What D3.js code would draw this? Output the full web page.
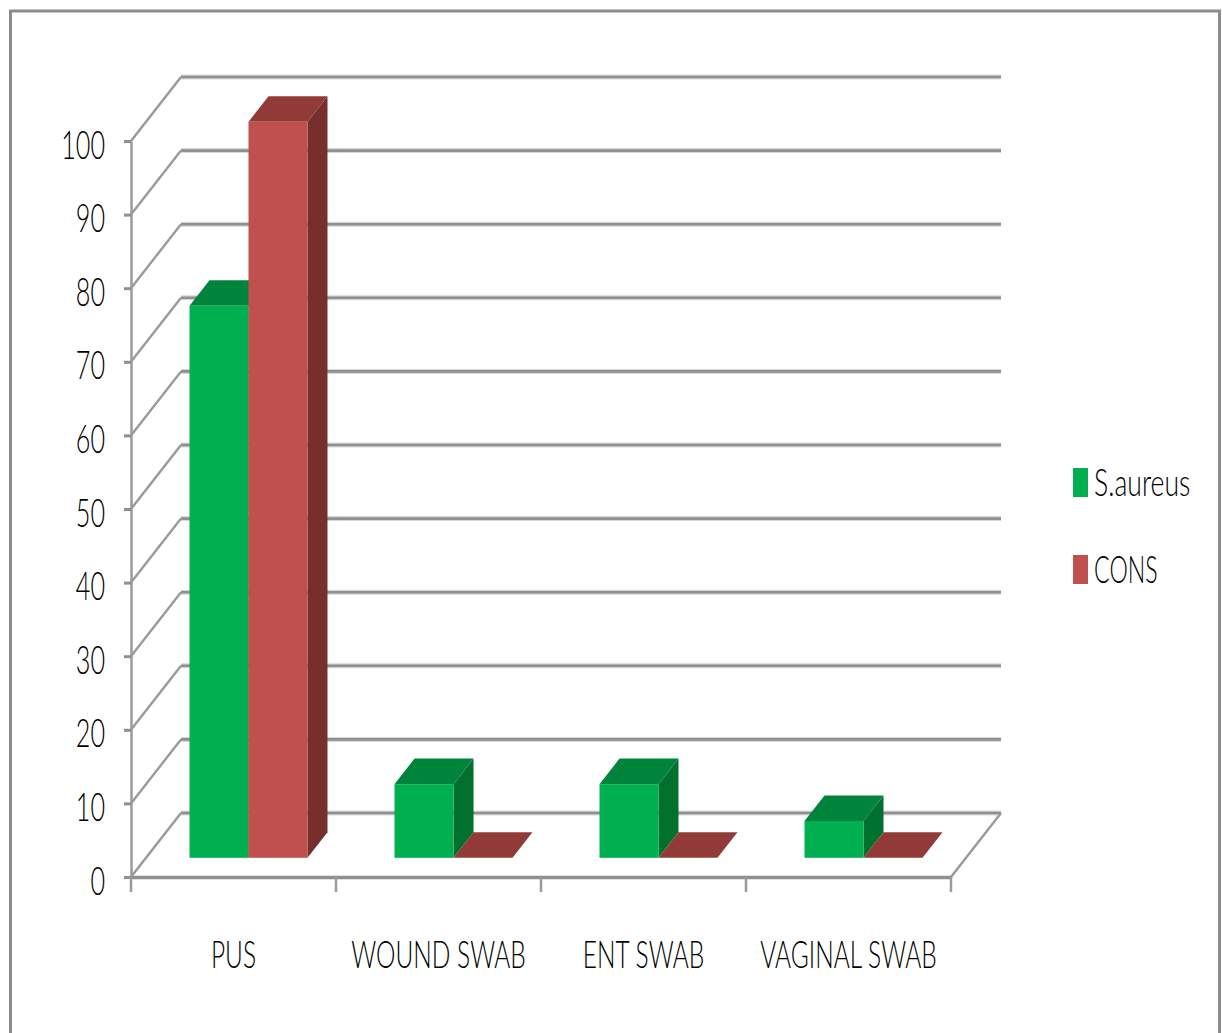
<!DOCTYPE html>
<html>
<head>
<meta charset="utf-8">
<script src="https://cdn.jsdelivr.net/npm/d3@7/dist/d3.min.js"></script>
<style>
html,body{margin:0;padding:0;background:#fff;overflow:hidden}
svg{display:block}
text{font-family:Lato,"Open Sans",sans-serif;fill:#000;font-weight:300}
</style>
</head>
<body>
<svg id="chart" width="1222" height="1033"></svg>
<script>
const categories = ["PUS", "WOUND SWAB", "ENT SWAB", "VAGINAL SWAB"];
const sAureus = [75, 10, 10, 5];
const cons = [100, 0, 0, 0];
const yTicks = [0, 10, 20, 30, 40, 50, 60, 70, 80, 90, 100];
const seriesNames = ["S.aureus", "CONS"];
const seriesValues = [sAureus, cons];
const seriesFront = ["#00b050", "#c0504d"];
const seriesTop = ["#00843c", "#923a38"];
const seriesSide = ["#00702f", "#772f2d"];
const legendSqueeze = [0.7, 0.61];

const gridColor = "#8f8f8f";
const svg = d3.select("#chart");

// Outer chart frame; its lower edge runs off the page
svg.append("rect").attr("x", 10.5).attr("y", 11).attr("width", 1209).attr("height", 1060)
  .attr("fill", "#fff").attr("stroke", "#8c8c8c").attr("stroke-width", 3);

// Oblique projection of the 3-D plot box
const wallDx = 50, wallDy = -64;
const y = d3.scaleLinear().domain([0, 100]).range([877, 141]);
const x = d3.scaleBand().domain(categories).range([131, 951]);
const series = d3.scaleBand().domain(seriesNames).range([0, 118]);
const frontDepth = 0.3, backDepth = 0.7;
const fx = wallDx * frontDepth, fy = wallDy * frontDepth;
const bx = wallDx * (backDepth - frontDepth), by = wallDy * (backDepth - frontDepth);

// Back wall gridlines: pale halo under a darker core
const backWall = svg.append("g");
[["#d6d6d6", 5], [gridColor, 2.6]].forEach(([color, width]) => {
  backWall.append("g").selectAll("line").data(yTicks).join("line")
    .attr("x1", x.range()[0] + wallDx).attr("x2", x.range()[1] + wallDx)
    .attr("y1", d => y(d) + wallDy).attr("y2", d => y(d) + wallDy)
    .attr("stroke", color).attr("stroke-width", width);
});

// Side wall diagonals and the floor edge on the right
const sideWall = svg.append("g").attr("stroke", "#9a9a9a").attr("stroke-width", 2.4);
sideWall.selectAll("line").data(yTicks).join("line")
  .attr("x1", x.range()[0]).attr("y1", d => y(d))
  .attr("x2", x.range()[0] + wallDx).attr("y2", d => y(d) + wallDy);
sideWall.append("line").datum(0)
  .attr("x1", x.range()[1]).attr("y1", y(0))
  .attr("x2", x.range()[1] + wallDx).attr("y2", y(0) + wallDy);

// Condensed axis and legend lettering
const squeeze = (sel, sx) => sel.attr("transform", function () {
  const t = d3.select(this);
  const px = +t.attr("x") || 0, py = +t.attr("y") || 0;
  return `translate(${px},${py}) scale(${sx},1)`;
}).attr("x", 0).attr("y", 0);

// Value axis
const yAxis = svg.append("g").attr("transform", "translate(131,0)")
  .call(d3.axisLeft(y).tickValues(yTicks).tickSize(7).tickPadding(0).tickSizeOuter(0));
yAxis.select(".domain").attr("stroke", "#9a9a9a").attr("stroke-width", 2.5);
yAxis.selectAll(".tick line").attr("stroke", gridColor).attr("stroke-width", 3);
yAxis.selectAll(".tick text")
  .attr("font-size", 40).attr("text-anchor", "end").attr("dy", null)
  .attr("x", -26).attr("y", 17)
  .call(squeeze, 0.63);

// Category axis
const xAxis = svg.append("g").attr("transform", `translate(0,${y(0)})`)
  .call(d3.axisBottom(x).tickSize(0).tickSizeOuter(0).tickPadding(0));
xAxis.select(".domain").attr("stroke", gridColor).attr("stroke-width", 3.4);
xAxis.selectAll(".tick text")
  .attr("font-size", 38).attr("text-anchor", "middle").attr("dy", null)
  .attr("x", 0).attr("y", 91)
  .call(squeeze, 0.645);
xAxis.selectAll(".cat-tick").data([...categories.map(c => x(c)), x.range()[1]]).join("line")
  .attr("class", "cat-tick")
  .attr("x1", d => d).attr("x2", d => d).attr("y1", 0).attr("y2", 15)
  .attr("stroke", "#9a9a9a").attr("stroke-width", 2.5);

// Bars, one box per value: side, top, then front face
const polygon = pts => pts.map(p => p.join(",")).join(" ");
const boxes = svg.append("g");
categories.forEach((cat, ci) => {
  seriesNames.forEach((name, si) => {
    const v = seriesValues[si][ci];
    const x0 = x(cat) + (x.bandwidth() - series.range()[1]) / 2 + fx + series(name);
    const x1 = x0 + series.bandwidth();
    const yb = y(0) + fy;
    const yt = yb - (y(0) - y(v));
    const g = boxes.append("g");
    g.append("polygon").attr("fill", seriesSide[si])
      .attr("points", polygon([[x1, yt], [x1 + bx, yt + by], [x1 + bx, yb + by], [x1, yb]]));
    g.append("polygon").attr("fill", seriesTop[si])
      .attr("points", polygon([[x0, yt], [x1, yt], [x1 + bx, yt + by], [x0 + bx, yt + by]]));
    g.append("rect").attr("fill", seriesFront[si])
      .attr("x", x0).attr("y", yt).attr("width", series.bandwidth()).attr("height", yb - yt);
  });
});

// Legend
const legendRows = d3.scalePoint().domain(seriesNames).range([482.5, 569.5]);
const legend = svg.append("g");
seriesNames.forEach((name, i) => {
  legend.append("rect").attr("x", 1073).attr("y", legendRows(name) - 14.5)
    .attr("width", 15).attr("height", 29).attr("fill", seriesFront[i]);
  legend.append("text").text(name).attr("font-size", 38)
    .attr("x", 1094).attr("y", legendRows(name) + 13)
    .call(squeeze, legendSqueeze[i]);
});
</script>
</body>
</html>
